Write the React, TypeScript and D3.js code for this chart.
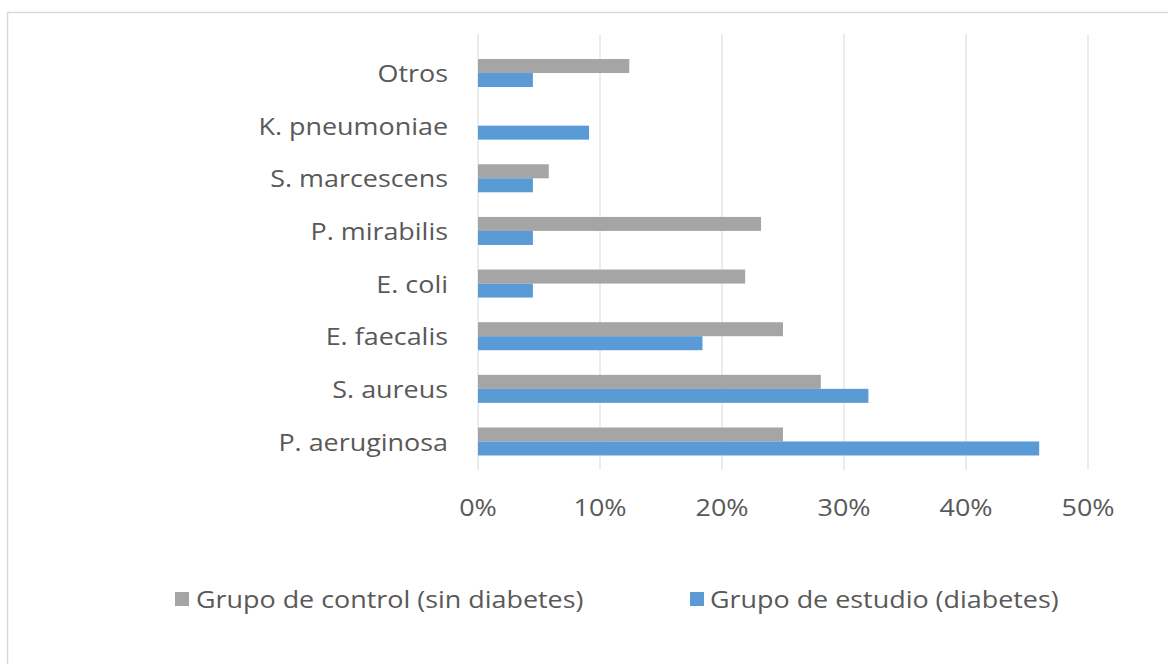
import React from "react";
import * as d3 from "d3";

const categories = [
  "P. aeruginosa",
  "S. aureus",
  "E. faecalis",
  "E. coli",
  "P. mirabilis",
  "S. marcescens",
  "K. pneumoniae",
  "Otros",
];
const controlValues = [25, 28.1, 25, 21.9, 23.2, 5.8, 0, 12.4];
const studyValues = [46, 32, 18.4, 4.5, 4.5, 4.5, 9.1, 4.5];
const xTicks = [0, 10, 20, 30, 40, 50];
const seriesNames = ["Grupo de control (sin diabetes)", "Grupo de estudio (diabetes)"];
const seriesColors = ["#A5A5A5", "#5B9BD5"];

const W = 1168;
const H = 664;
const FONT = "'Open Sans', 'Noto Sans', sans-serif";
const FS = 23;
const SX = 1.17; // text looks horizontally stretched in the original

function Label(props: { x: number; y: number; anchor?: string; children: React.ReactNode }) {
  return (
    <text
      transform={`translate(${props.x},${props.y}) scale(${SX},1)`}
      textAnchor={props.anchor || "start"}
      dominantBaseline="central"
      fontSize={FS}
      fill="#595959"
    >
      {props.children}
    </text>
  );
}

export default function App() {
  const x = d3.scaleLinear().domain([0, 50]).range([478, 1088]);
  const y = d3
    .scaleBand()
    .domain(categories.slice().reverse())
    .range([46.7, 467.8])
    .paddingInner(0.468)
    .paddingOuter(0.234);
  const inner = d3.scaleBand().domain(["0", "1"]).range([0, y.bandwidth()]);

  const series = [controlValues, studyValues];

  return (
    <svg
      width={W}
      height={H}
      style={{ position: "absolute", left: 0, top: 0, background: "#fff" }}
      fontFamily={FONT}
    >
      <rect x={7.5} y={12.5} width={1180} height={670} fill="#fff" stroke="#D9D9D9" strokeWidth={1.5} />
      {xTicks.map((t) => (
        <line key={t} x1={x(t)} x2={x(t)} y1={34} y2={470} stroke="#D9D9D9" strokeWidth={1} />
      ))}
      {series.map((vals, si) =>
        categories.map((c, i) => (
          <rect
            key={si + c}
            x={x(0)}
            y={(y(c) as number) + (inner(String(si)) as number)}
            width={x(vals[i]) - x(0)}
            height={inner.bandwidth()}
            fill={seriesColors[si]}
          />
        ))
      )}
      {categories.map((c) => (
        <Label key={c} x={448} y={(y(c) as number) + y.bandwidth() / 2} anchor="end">
          {c}
        </Label>
      ))}
      {xTicks.map((t) => (
        <Label key={t} x={x(t)} y={507} anchor="middle">
          {t}%
        </Label>
      ))}
      <g>
        <rect x={175} y={592} width={14} height={14} fill={seriesColors[0]} />
        <Label x={196} y={599}>{seriesNames[0]}</Label>
        <rect x={690} y={592} width={14} height={14} fill={seriesColors[1]} />
        <Label x={710} y={599}>{seriesNames[1]}</Label>
      </g>
    </svg>
  );
}
